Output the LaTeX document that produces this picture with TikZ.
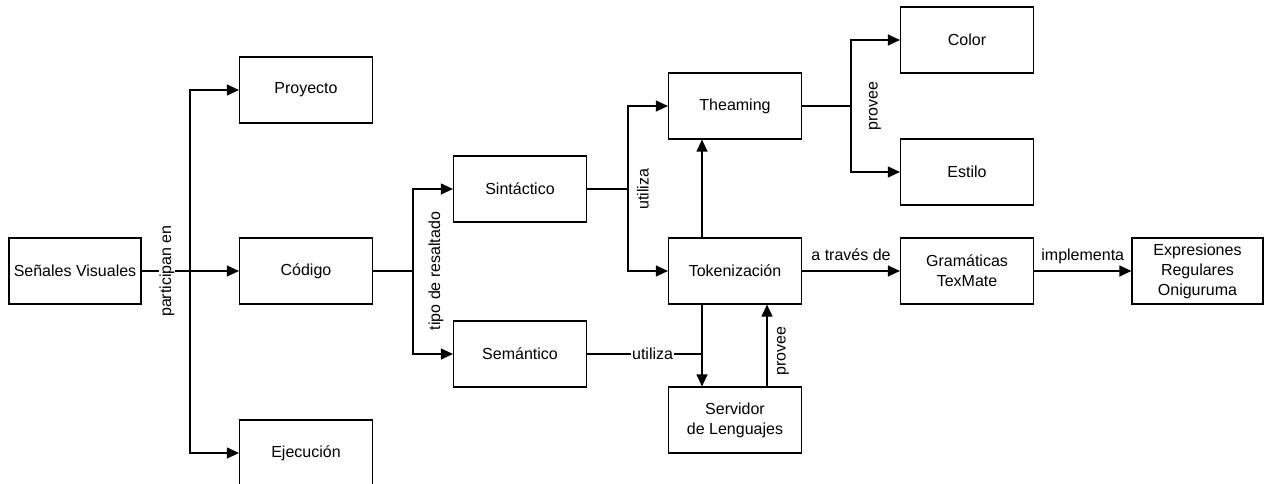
\documentclass[tikz,border=0pt]{standalone}
\usepackage{fontspec}
\setmainfont{Liberation Sans}
\usetikzlibrary{arrows.meta}

\begin{document}
\begin{tikzpicture}[x=1pt,y=-1pt,line width=1.2pt,
    box/.style={draw,minimum width=133pt,minimum height=66pt,align=center,
        inner sep=2pt,font=\fontsize{16}{20}\selectfont},
    arr/.style={-{Triangle[length=12pt,width=11pt]}},
    vlbl/.style={rotate=90,inner sep=1pt,font=\fontsize{16}{20}\selectfont},
    hlbl/.style={inner sep=1pt,font=\fontsize{16}{20}\selectfont}]
    \useasboundingbox (0,0) rectangle (1264,484);
    %boxes
    \node[box,minimum width=132pt] (senales) at (75,271) {Señales Visuales};
    \node[box] (proyecto) at (306,90) {Proyecto};
    \node[box] (codigo) at (306,271) {Código};
    \node[box] (ejecucion) at (306,453) {Ejecución};
    \node[box] (sintactico) at (520,189) {Sintáctico};
    \node[box] (semantico) at (520,354) {Semántico};
    \node[box] (theaming) at (735,106) {Theaming};
    \node[box] (tokenizacion) at (735,271) {Tokenización};
    \node[box] (servidor) at (735,420) {Servidor\\de Lenguajes};
    \node[box] (color) at (967,40) {Color};
    \node[box] (estilo) at (967,172) {Estilo};
    \node[box] (gramaticas) at (967,271) {Gramáticas\\TexMate};
    \node[box,minimum width=131pt] (expresiones) at (1197.5,271) {Expresiones\\Regulares\\Oniguruma};
    %branch points
    \coordinate (b1) at (190,271);
    \coordinate (b2) at (413,271);
    \coordinate (b3) at (628,189);
    \coordinate (b4) at (851,106);
    \coordinate (b5) at (702,354);
    %senales visuales
    \draw (senales) -- (b1);
    \draw[arr] (b1) |- (proyecto);
    \draw[arr] (b1) -- (codigo);
    \draw[arr] (b1) |- (ejecucion);
    \path (b1) ++(-23,0) node[vlbl,fill=white] (participan) {participan en};
    %codigo
    \draw (codigo) -- (b2);
    \draw[arr] (b2) |- (sintactico);
    \draw[arr] (b2) |- (semantico);
    \path (b2) ++(23,0) node[vlbl] (tipo) {tipo de resaltado};
    %sintactico
    \draw (sintactico) -- (b3);
    \draw[arr] (b3) |- (theaming);
    \draw[arr] (b3) |- (tokenizacion);
    \path (b3) ++(15,0) node[vlbl] (utilizaA) {utiliza};
    %semantico
    \draw (semantico) -- node[hlbl,fill=white,pos=.57] (utilizaB) {utiliza} (b5);
    \draw[arr] ([xshift=-33pt]tokenizacion.south) -- ([xshift=-33pt]servidor.north);
    \draw[arr] ([xshift=32pt]servidor.north) -- ([xshift=32pt]tokenizacion.south);
    \path ([xshift=32pt]servidor.north) ++(16,-35) node[vlbl] (proveeA) {provee};
    \draw[arr] ([xshift=-33pt]tokenizacion.north) -- ([xshift=-33pt]theaming.south);
    %theaming
    \draw (theaming) -- (b4);
    \draw[arr] (b4) |- (color);
    \draw[arr] (b4) |- (estilo);
    \path (b4) ++(24,0) node[vlbl] (proveeB) {provee};
    %tokenizacion
    \draw[arr] (tokenizacion) -- node[hlbl,anchor=base,yshift=11pt] (traves) {a través de} (gramaticas);
    \draw[arr] (gramaticas) -- node[hlbl,anchor=base,yshift=11pt] (implementa) {implementa} (expresiones);
\end{tikzpicture}
\end{document}
